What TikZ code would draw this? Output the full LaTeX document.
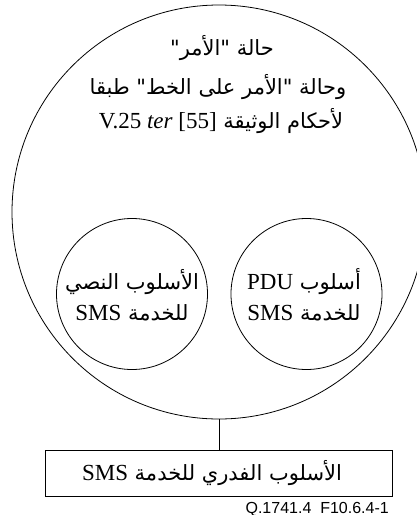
\documentclass[tikz,border=0pt]{standalone}
\usepackage{fontspec}
\setmainfont{Liberation Serif}
\newfontfamily\arabicfont[Script=Arabic]{DejaVu Sans}
\newfontfamily\capfont{Liberation Sans}
\TeXXeTstate=1

\tikzset{
  ring/.style={circle, draw, line width=0.8pt, inner sep=0pt},
  modebox/.style={rectangle, draw, line width=0.8pt, inner sep=0pt},
  artxt/.style={inner sep=0pt, font=\fontsize{21}{24}\selectfont},
  link/.style={line width=0.8pt},
}
\newcommand{\ar}[1]{{\arabicfont\beginR #1\endR}}
\newcommand{\lt}[1]{{\rmfamily\fontsize{23}{26}\selectfont #1}}

\begin{document}
\begin{tikzpicture}[x=1pt,y=-1pt]
  \useasboundingbox (0,0) rectangle (417,515);
  \clip (0,0) rectangle (417,515);

  % outer command-state circle
  \node[ring, minimum size=414pt] (outer) at (219,212) {};
  \node[artxt] (t1) at (222,48) {\ar{حالة "الأمر"}};
  \node[artxt] (t2) at (218,87) {\ar{وحالة "الأمر على الخط" طبقا}};
  \node[artxt] (t3) at (221,121) {\ar{لأحكام الوثيقة \beginL\lt{V.25 \textit{ter} [55]}\endL}};

  % inner SMS mode circles
  \node[ring, minimum size=151pt] (text) at (132,294) {};
  \node[artxt] (tx1) at (132,282) {\ar{الأسلوب النصي}};
  \node[artxt] (tx2) at (132,313) {\ar{للخدمة \lt{SMS}}};

  \node[ring, minimum size=151pt] (pdu) at (306.5,294) {};
  \node[artxt] (pd1) at (304,282) {\ar{أسلوب \lt{PDU}}};
  \node[artxt] (pd2) at (304,313) {\ar{للخدمة \lt{SMS}}};

  % block mode box below
  \node[modebox, minimum width=347pt, minimum height=46pt] (block) at (218.5,473) {};
  \node[artxt] (bl) at (212,473) {\ar{الأسلوب الفدري للخدمة \lt{SMS}}};

  \draw[link] (outer.south) -- (outer.south |- block.north);

  \node[anchor=base east, inner sep=0pt, font=\capfont\fontsize{16}{18}\selectfont] (cap) at (389,513) {Q.1741.4\ \ F10.6.4-1};
\end{tikzpicture}
\end{document}
